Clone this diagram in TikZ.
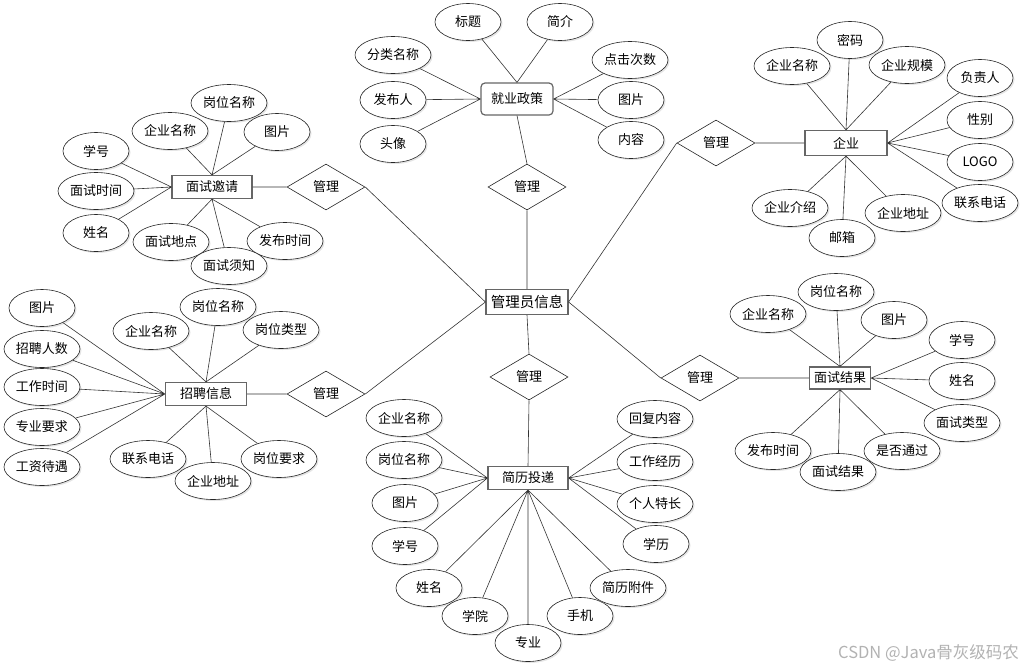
\documentclass[tikz,border=0pt]{standalone}
\usepackage{fontspec}
\setmainfont{Noto Sans CJK SC}
\usetikzlibrary{shapes.geometric,shadows}

\begin{document}
\begin{tikzpicture}[x=1pt,y=-1pt,
  font=\fontsize{13}{15}\selectfont,
  attr/.style={ellipse,draw=black!85,fill=white,line width=0.6pt,minimum width=66pt,minimum height=37pt,inner sep=0pt,
    drop shadow={shadow xshift=1.5pt,shadow yshift=-1.5pt,fill=gray!40,opacity=0.5}},
  attrw/.style={attr,minimum width=76pt},
  entity/.style={rectangle,draw=black!60,fill=white,line width=1.2pt,minimum width=80pt,minimum height=23pt,inner sep=1pt},
  rel/.style={diamond,draw=black!85,fill=white,line width=0.6pt,minimum width=78pt,minimum height=46pt,inner sep=0pt},
  link/.style={draw=black!80,line width=0.6pt}
]
\useasboundingbox (0,0) rectangle (1024,670);

% Central entity
\node[entity,minimum width=82pt,minimum height=25pt,font=\fontsize{14.5}{16}\selectfont] (admin) at (527,302) {管理员信息};

% Employment policy (top)
\node[rel] (mgTop) at (527,187) {管理};
\node[entity,rounded corners=4pt,minimum width=72pt,minimum height=32pt] (jyzc) at (517,99) {就业政策};
\node[attr] (jbt) at (468,22) {标题};
\node[attr] (jjj) at (560,22) {简介};
\node[attrw] (jfl) at (393,55) {分类名称};
\node[attr] (jfb) at (393,100) {发布人};
\node[attr] (jtx) at (393,144) {头像};
\node[attrw] (jdj) at (630,60) {点击次数};
\node[attr] (jtp) at (631,100) {图片};
\node[attr] (jnr) at (631,140) {内容};

% Company (top right)
\node[rel] (mgQy) at (716,143) {管理};
\node[entity,minimum width=82pt,minimum height=25pt] (qy) at (846,143) {企业};
\node[attr] (qmm) at (850,40) {密码};
\node[attrw] (qmc) at (792,66) {企业名称};
\node[attrw] (qgm) at (907,65) {企业规模};
\node[attr] (qfz) at (980,78) {负责人};
\node[attr] (qxb) at (980,120) {性别};
\node[attr] (qlogo) at (980,162) {LOGO};
\node[attrw] (qdh) at (980,203) {联系电话};
\node[attrw] (qjs) at (790,208) {企业介绍};
\node[attr] (qyx) at (842,238) {邮箱};
\node[attrw] (qdz) at (903,213) {企业地址};

% Interview invitation (top left)
\node[rel] (mgYq) at (326,187) {管理};
\node[entity] (yq) at (212,187) {面试邀请};
\node[attrw] (ygw) at (229,103) {岗位名称};
\node[attrw] (ymc) at (170,131) {企业名称};
\node[attr] (ytp) at (277,132) {图片};
\node[attr] (yxh) at (96,151) {学号};
\node[attrw] (ysj) at (96,191) {面试时间};
\node[attr] (yxm) at (96,233) {姓名};
\node[attrw] (ydd) at (171,242) {面试地点};
\node[attrw] (yfb) at (285,241) {发布时间};
\node[attrw] (yxz) at (229,266) {面试须知};

% Recruitment info (bottom left)
\node[rel] (mgZp) at (326,394) {管理};
\node[entity,minimum width=81pt] (zp) at (206,394) {招聘信息};
\node[attr] (ztp) at (42,308) {图片};
\node[attrw] (zrs) at (42,349) {招聘人数};
\node[attrw] (zsj) at (42,387) {工作时间};
\node[attrw] (zzy) at (42,427) {专业要求};
\node[attrw] (zdy) at (42,467) {工资待遇};
\node[attrw] (zmc) at (151,331) {企业名称};
\node[attrw] (zgw) at (218,307) {岗位名称};
\node[attrw] (zlx) at (281,330) {岗位类型};
\node[attrw] (zdh) at (148,459) {联系电话};
\node[attrw] (zyq) at (279,459) {岗位要求};
\node[attrw] (zdz) at (213,481) {企业地址};

% Interview result (bottom right)
\node[rel] (mgJg) at (700,378) {管理};
\node[entity,minimum width=61pt,minimum height=22pt] (jg) at (840,378) {面试结果};
\node[attrw] (gmc) at (768,314) {企业名称};
\node[attrw] (ggw) at (836,292) {岗位名称};
\node[attr] (gtp) at (894,320) {图片};
\node[attr] (gxh) at (962,340) {学号};
\node[attr] (gxm) at (962,381) {姓名};
\node[attrw] (glx) at (962,423) {面试类型};
\node[attrw] (gfb) at (773,451) {发布时间};
\node[attrw] (gtg) at (902,451) {是否通过};
\node[attrw] (gjg) at (838,472) {面试结果};

% Resume delivery (bottom)
\node[rel] (mgJl) at (529,377) {管理};
\node[entity] (jl) at (528,478) {简历投递};
\node[attrw] (lmc) at (404,418) {企业名称};
\node[attrw] (lgw) at (404,460) {岗位名称};
\node[attr] (ltp) at (405,503) {图片};
\node[attr] (lxh) at (405,546) {学号};
\node[attr] (lxm) at (429,588) {姓名};
\node[attr] (lxy) at (475,616) {学院};
\node[attr] (lsj) at (580,616) {手机};
\node[attr] (lzy) at (528,643) {专业};
\node[attrw] (lfj) at (628,588) {简历附件};
\node[attrw] (lhf) at (655,419) {回复内容};
\node[attrw] (lgz) at (655,462) {工作经历};
\node[attrw] (ltc) at (655,504) {个人特长};
\node[attr] (lxl) at (656,544) {学历};

% Watermark
\node[anchor=east,text=gray!60,font=\fontsize{16.5}{18}\selectfont,inner sep=0pt] (wm) at (1019,653) {CSDN @Java骨灰级码农};

% Relationship lines
\draw[link] (admin.north) -- (mgTop.south) (mgTop.north) -- (jyzc.south);
\draw[link] (admin.east) -- (mgQy.west) (mgQy.east) -- (qy.west);
\draw[link] (admin.west) -- (mgYq.east) (mgYq.west) -- (yq.east);
\draw[link] (admin.west) -- (mgZp.east) (mgZp.west) -- (zp.east);
\draw[link] (admin.east) -- (mgJg.west) (mgJg.east) -- (jg.west);
\draw[link] (admin.south) -- (mgJl.north) (mgJl.south) -- (jl.north);

% Attribute lines
\draw[link] (jyzc.north) -- (jbt) (jyzc.north) -- (jjj)
  (jyzc.west) -- (jfl) (jyzc.west) -- (jfb) (jyzc.west) -- (jtx)
  (jyzc.east) -- (jdj) (jyzc.east) -- (jtp) (jyzc.east) -- (jnr);
\draw[link] (qy.north) -- (qmm) (qy.north) -- (qmc) (qy.north) -- (qgm)
  (qy.east) -- (qfz) (qy.east) -- (qxb) (qy.east) -- (qlogo) (qy.east) -- (qdh)
  (qy.south) -- (qjs) (qy.south) -- (qyx) (qy.south) -- (qdz);
\draw[link] (yq.north) -- (ygw) (yq.north) -- (ymc) (yq.north) -- (ytp)
  (yq.west) -- (yxh) (yq.west) -- (ysj) (yq.west) -- (yxm)
  (yq.south) -- (ydd) (yq.south) -- (yxz) (yq.south) -- (yfb);
\draw[link] (zp.west) -- (ztp) (zp.west) -- (zrs) (zp.west) -- (zsj) (zp.west) -- (zzy) (zp.west) -- (zdy)
  (zp.north) -- (zmc) (zp.north) -- (zgw) (zp.north) -- (zlx)
  (zp.south) -- (zdh) (zp.south) -- (zdz) (zp.south) -- (zyq);
\draw[link] (jg.north) -- (gmc) (jg.north) -- (ggw) (jg.north) -- (gtp)
  (jg.east) -- (gxh) (jg.east) -- (gxm) (jg.east) -- (glx)
  (jg.south) -- (gfb) (jg.south) -- (gjg) (jg.south) -- (gtg);
\draw[link] (jl.west) -- (lmc) (jl.west) -- (lgw) (jl.west) -- (ltp) (jl.west) -- (lxh)
  (jl.east) -- (lhf) (jl.east) -- (lgz) (jl.east) -- (ltc) (jl.east) -- (lxl)
  (jl.south) -- (lxm) (jl.south) -- (lxy) (jl.south) -- (lzy) (jl.south) -- (lsj) (jl.south) -- (lfj);

\end{tikzpicture}
\end{document}
